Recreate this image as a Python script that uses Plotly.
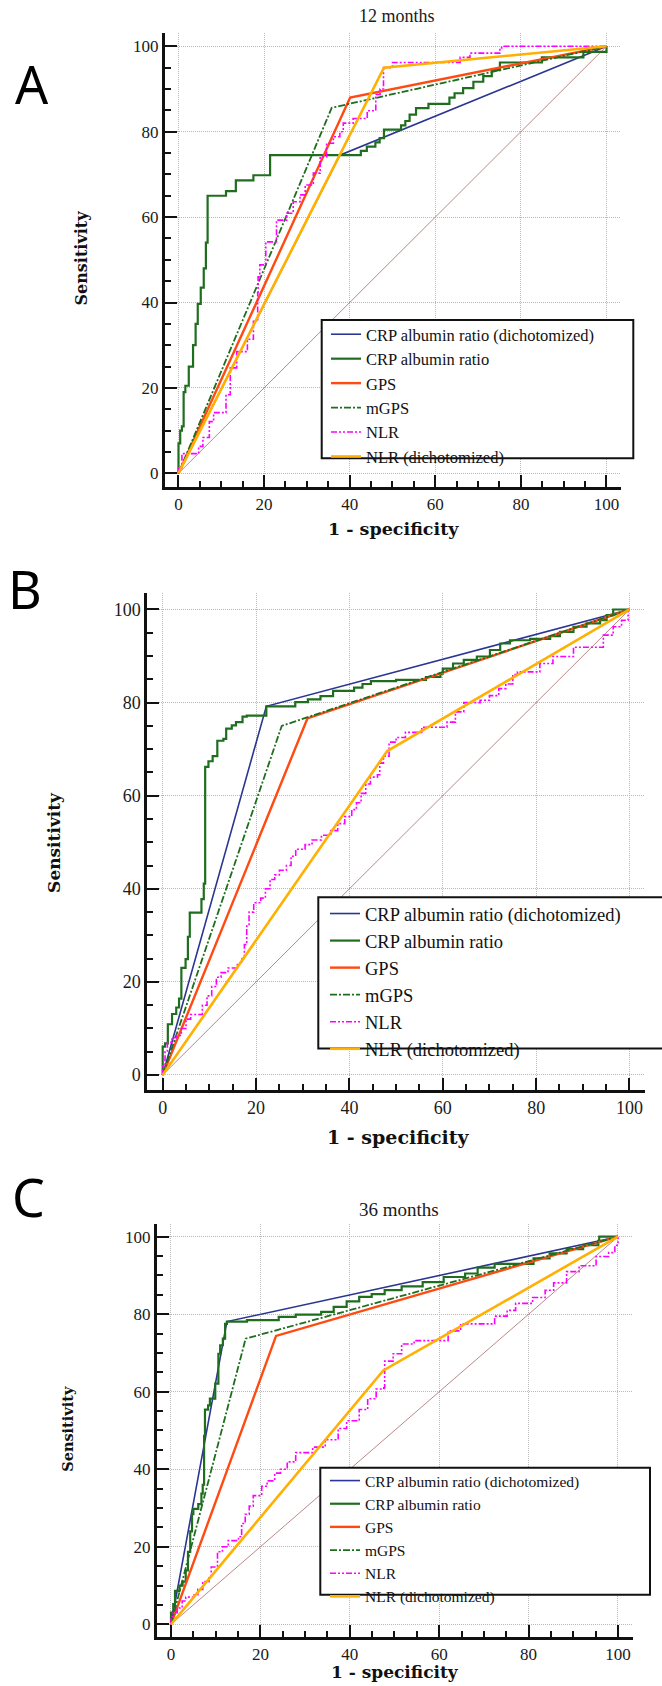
import plotly.graph_objects as go

FIG_W, FIG_H = 662, 1686

SERIES_NAMES = [
    "CRP albumin ratio (dichotomized)",
    "CRP albumin ratio",
    "GPS",
    "mGPS",
    "NLR",
    "NLR (dichotomized)",
]
PANEL_LETTERS = ["A", "B", "C"]
PANEL_TITLES = ["12 months", "", "36 months"]
X_TITLE = "1 - specificity"
Y_TITLE = "Sensitivity"
TICK_VALUES = [0, 20, 40, 60, 80, 100]
TICK_LABELS = ["0", "20", "40", "60", "80", "100"]
DIAG_X = [0, 100]
DIAG_Y = [0, 100]

# ---------------- Panel A : 12 months ----------------
A_CARD_X = [0, 37.7, 100]
A_CARD_Y = [0, 74.5, 100]
A_CAR_X = [0, 0, 0.4, 0.8, 1.2, 1.6, 2.4, 3.4, 4.0, 4.5, 5.2, 5.9, 6.4, 6.8, 11.1, 13.4,
           17.5, 21.4, 42.6, 44, 46, 47, 48, 52, 53, 54, 55.5, 58.4, 63.3, 64.5, 66.5,
           68.9, 71.2, 73.2, 75.1, 84.9, 94.6, 100]
A_CAR_Y = [0, 7, 10, 11, 19, 20.5, 25, 30, 35, 39.7, 43.5, 48, 54, 65, 66.1, 68.6,
           69.8, 74.5, 75.5, 76.5, 77.5, 78.5, 80.5, 81.5, 82.5, 84, 85.5, 86.5, 88, 89, 90.2,
           91.7, 93, 94.4, 96.2, 97.4, 98.7, 100]
A_GPS_X = [0, 40.1, 100]
A_GPS_Y = [0, 88, 100]
A_MGPS_X = [0, 35.8, 100]
A_MGPS_Y = [0, 85.6, 100]
A_NLR_X = [0, 0, 0.8, 4.7, 5.7, 7.2, 8.2, 11.1, 12.1, 13.6, 16.1, 17.5, 18.5, 18.6, 19,
           20.4, 22.9, 25.3, 26.8, 28.4, 29.6, 31.5, 33.1, 34.6, 36.2, 37.7, 38.5, 40.8,
           44.1, 46.1, 47.1, 47.9, 50, 65.8, 68.1, 75.1, 75.5, 100]
A_NLR_Y = [0, 1.3, 4.6, 6.3, 8.4, 12.1, 14.2, 18.4, 24.7, 28.5, 31.4, 35.6, 42.3, 46, 48.8,
           54.2, 59.3, 60.9, 63.6, 65.2, 67.5, 70.3, 74.1, 77.3, 78.8, 80, 82, 83.1,
           84.9, 88.7, 90, 95, 96.2, 97.4, 98.4, 99.5, 100, 100]
A_NLRD_X = [0, 48, 100]
A_NLRD_Y = [0, 95, 100]

# ---------------- Panel B ----------------
B_CARD_X = [0, 22.2, 100]
B_CARD_Y = [0, 79.2, 100]
B_CAR_X = [0, 0, 0.5, 1.1, 2, 2.9, 3.5, 4, 4.9, 5.4, 5.8, 8.3, 8.8, 9.1, 9.8, 10.7, 11.7,
           13, 13.6, 14.8, 15.7, 17.1, 18, 22.2, 28.4, 31.1, 33.8, 36.5, 41, 42.8, 44.6,
           50, 56.4, 59.5, 60, 62.2, 64.5, 67.3, 70.1, 72.3, 74.4, 78.7, 83, 85.1, 88,
           90.8, 93.7, 95.1, 96.5, 100]
B_CAR_Y = [0, 6.1, 6.8, 10.9, 13.1, 14.5, 16.4, 23, 24.9, 29.7, 34.9, 37.8, 41.1, 66.2,
           67.4, 68.5, 71.8, 72.2, 74.4, 75.1, 75.8, 77, 77.2, 79.2, 80.1, 80.7, 81.4, 82.5,
           83.2, 84, 84.6, 84.9, 85.5, 86.2, 87.3, 88.4, 89.2, 89.9, 91.3, 92.7, 93.4, 93.7,
           94.3, 95.2, 96.3, 97, 97.7, 98.8, 100, 100]
B_GPS_X = [0, 31, 100]
B_GPS_Y = [0, 76.6, 100]
B_MGPS_X = [0, 25.5, 100]
B_MGPS_Y = [0, 75, 100]
B_NLR_X = [0, 0, 0.5, 1, 2, 3, 4, 5, 6, 8.5, 9.5, 10.5, 11.5, 12.5, 14, 16, 17, 17.5, 18,
           18.5, 19.5, 21, 22, 23, 24, 25, 26.5, 27.5, 28.5, 30.5, 32, 34, 36, 37.5, 39,
           40.5, 41.5, 42.5, 43.5, 44.5, 46, 46.5, 47.3, 48.5, 50, 52, 55.5, 60.9, 62.7,
           64.5, 68, 70, 72, 73.5, 75, 76, 80.8, 83.6, 88, 94.4, 96.5, 98.3, 99.7, 100]
B_NLR_Y = [0, 2, 5, 7, 8, 8.5, 10, 12, 13, 15, 17, 19, 21, 22, 23, 24, 25, 28, 32,
           35, 37, 38, 40, 42, 43, 44, 45, 47, 48.5, 49.5, 50.5, 51.5, 52.5, 54, 55.5,
           57, 58.5, 60.5, 62.5, 64, 64.5, 67, 68.5, 71.5, 72.5, 73.6, 74.7, 75.8, 78,
           80, 80.5, 81.5, 83, 84, 86, 86.6, 88.4, 89.9, 91.9, 94.5, 96.3, 97.7, 100, 100]
B_NLRD_X = [0, 48.1, 100]
B_NLRD_Y = [0, 69.6, 100]

# ---------------- Panel C : 36 months ----------------
C_CARD_X = [0, 12.5, 100]
C_CARD_Y = [0, 78.1, 100]
C_CAR_X = [0, 0, 0.5, 0.9, 1.9, 2.6, 3.3, 3.8, 4.3, 4.7, 5, 6.1, 6.8, 7.1, 7.4, 7.6, 8.3,
           8.7, 9.9, 10.6, 11, 11.6, 12.1, 12.5, 17, 24.1, 27.9, 33.6, 36.4, 39.3, 42.1,
           44.9, 47.8, 51.6, 56.3, 61, 65.8, 68.6, 72.4, 81.1, 84.7, 88.5, 92.2, 95.6,
           95.8, 100]
C_CAR_Y = [0, 3, 5.2, 8.6, 10, 11, 13.9, 18.7, 24, 28.4, 29.8, 31, 33.7, 36, 48.6, 55.4,
           56.5, 58.2, 62.1, 69.8, 72, 73.7, 77.5, 78.1, 78.5, 79.3, 79.9, 80.6, 81.9,
           83.3, 84.5, 85.2, 86.2, 87.2, 88.3, 89.6, 90.5, 92, 93, 94.4, 95.7, 96.8, 97.8,
           98.9, 100, 100]
C_GPS_X = [0, 23.5, 100]
C_GPS_Y = [0, 74.4, 100]
C_MGPS_X = [0, 16.7, 100]
C_MGPS_Y = [0, 73.7, 100]
C_NLR_X = [0, 0, 0.5, 1.4, 2.5, 3.3, 5.2, 6, 7.1, 8.5, 9, 10.4, 11.5, 12.8, 15.1, 15.8,
           16.6, 17.5, 18.4, 20.3, 21.5, 23.2, 24.5, 26, 27.9, 31.7, 34.5, 37.4, 39.3,
           42.1, 44, 45.9, 47.6, 47.8, 49.7, 51.6, 54.4, 62, 64.8, 72.4, 75.2, 77.1, 80.9,
           83.7, 85.6, 88.5, 91.3, 95.1, 97.9, 99.3, 100]
C_NLR_Y = [0, 2, 3, 4.2, 6, 7, 7.6, 9, 11, 12, 14.8, 18.7, 20, 21.6, 22.6, 26, 28.4,
           30.5, 33.2, 35.6, 37, 39, 40, 41.9, 44.3, 45.7, 47.6, 50.5, 52.5, 55.4, 58.2,
           60.7, 61, 67.9, 69.8, 72.3, 73.2, 75.7, 77.5, 79.5, 81, 82.8, 84.3, 86.2, 88.1,
           91, 92.5, 94.9, 95.9, 97.8, 100]
C_NLRD_X = [0, 47.5, 100]
C_NLRD_Y = [0, 65.5, 100]

PANEL_SERIES = [
    [(A_CARD_X, A_CARD_Y), (A_CAR_X, A_CAR_Y), (A_GPS_X, A_GPS_Y),
     (A_MGPS_X, A_MGPS_Y), (A_NLR_X, A_NLR_Y), (A_NLRD_X, A_NLRD_Y)],
    [(B_CARD_X, B_CARD_Y), (B_CAR_X, B_CAR_Y), (B_GPS_X, B_GPS_Y),
     (B_MGPS_X, B_MGPS_Y), (B_NLR_X, B_NLR_Y), (B_NLRD_X, B_NLRD_Y)],
    [(C_CARD_X, C_CARD_Y), (C_CAR_X, C_CAR_Y), (C_GPS_X, C_GPS_Y),
     (C_MGPS_X, C_MGPS_Y), (C_NLR_X, C_NLR_Y), (C_NLRD_X, C_NLRD_Y)],
]

# ---------------- styles / layout geometry (pixels) ----------------
STYLES = {
    "CRP albumin ratio (dichotomized)": dict(color="#2B3592", width=1.6, dash="solid", shape="linear"),
    "CRP albumin ratio": dict(color="#1E6E1E", width=2.2, dash="solid", shape="hv"),
    "GPS": dict(color="#FF4A12", width=2.4, dash="solid", shape="linear"),
    "mGPS": dict(color="#1E6E1E", width=1.8, dash="7px,2px,2px,2px", shape="linear"),
    "NLR": dict(color="#FF00FF", width=1.6, dash="6px,2px,2px,2px,2px,2px", shape="hv"),
    "NLR (dichotomized)": dict(color="#FFB000", width=2.6, dash="solid", shape="linear"),
}

SERIF = "Liberation Serif"
BOLD_SERIF = "DejaVu Serif"

PANELS = [
    dict(x0=178.5, x100=606.5, y0=473.3, y100=46.3, xr=(-3.15, 103.3), yr=(-3.14, 103.1),
         tick=17, letter=(32, 84), title=(397, 16, 18),
         xt=(393, 529.3, 17.5), yt=(80.5, 258, 16),
         leg=(326, 317.0, 16.5), box=(321.7, 320, 633.3, 458.3)),
    dict(x0=162.7, x100=629.5, y0=1075.0, y100=609.5, xr=(-3.3, 103.3), yr=(-3.2, 103.5),
         tick=18, letter=(25, 588), title=None,
         xt=(398, 1136.7, 19), yt=(54.7, 842.2, 17),
         leg=(325, 895.0, 18.5), box=(318.3, 897.2, 690, 1048.5)),
    dict(x0=171.0, x100=618.0, y0=1624.3, y100=1236.7, xr=(-3.15, 103.3), yr=(-3.2, 103.3),
         tick=17, letter=(28.3, 1196.7), title=(399.4, 1209, 19),
         xt=(395, 1671.5, 17), yt=(67.4, 1428.4, 14.5),
         leg=(325, 1464.0, 15.5), box=(320.3, 1467.7, 650, 1594.8)),
]


def px_x(p):
    return p / FIG_W


def px_y(p):
    return 1 - p / FIG_H


fig = go.Figure()
layout = dict(
    width=FIG_W, height=FIG_H,
    margin=dict(l=0, r=0, t=0, b=0, autoexpand=False),
    paper_bgcolor="white", plot_bgcolor="white",
    showlegend=True, hovermode=False,
    annotations=[], shapes=[],
)

for k, (pan, series) in enumerate(zip(PANELS, PANEL_SERIES)):
    suffix = "" if k == 0 else str(k + 1)
    xa, ya = "x" + suffix, "y" + suffix
    leg = "legend" + suffix

    sx = (pan["x100"] - pan["x0"]) / 100.0
    sy = (pan["y0"] - pan["y100"]) / 100.0
    x_left = pan["x0"] + pan["xr"][0] * sx
    x_right = pan["x0"] + pan["xr"][1] * sx
    y_bottom = pan["y0"] - pan["yr"][0] * sy
    y_top = pan["y0"] - pan["yr"][1] * sy

    common = dict(
        showline=True, linewidth=3, linecolor="#111111", mirror=False,
        ticks="inside", ticklen=12, tickwidth=2, tickcolor="#111111",
        tickmode="array", tickvals=TICK_VALUES, ticktext=TICK_LABELS,
        showgrid=True, gridcolor="#B8B8B8", gridwidth=1, griddash="1px,1px",
        zeroline=False, fixedrange=True,
        minor=dict(ticks="inside", ticklen=6, tickwidth=2, tickcolor="#111111",
                   tickmode="linear", tick0=0, dtick=5, showgrid=False),
        tickfont=dict(family=SERIF, size=pan["tick"], color="#1a1a1a"),
    )
    layout["xaxis" + suffix] = dict(common, range=list(pan["xr"]), anchor=ya,
                                    domain=[px_x(x_left), px_x(x_right)])
    layout["yaxis" + suffix] = dict(common, range=list(pan["yr"]), anchor=xa,
                                    domain=[px_y(y_bottom), px_y(y_top)])

    # diagonal reference line
    fig.add_trace(go.Scatter(x=DIAG_X, y=DIAG_Y, mode="lines",
                             line=dict(color="#B37A7A", width=0.9),
                             showlegend=False, hoverinfo="skip", xaxis=xa, yaxis=ya))
    for name, (xs, ys) in zip(SERIES_NAMES, series):
        st = STYLES[name]
        fig.add_trace(go.Scatter(
            x=xs, y=ys, mode="lines", name=name,
            line=dict(color=st["color"], width=st["width"], dash=st["dash"], shape=st["shape"]),
            legend=leg, xaxis=xa, yaxis=ya, hoverinfo="skip"))

    lx, ly, lfs = pan["leg"]
    layout[leg] = dict(
        x=px_x(lx), y=px_y(ly), xanchor="left", yanchor="top",
        bgcolor="rgba(0,0,0,0)", borderwidth=0, tracegroupgap=0,
        font=dict(family=SERIF, size=lfs, color="#111111"),
        itemclick=False, itemdoubleclick=False,
    )
    bx0, by0, bx1, by1 = pan["box"]
    layout["shapes"].append(dict(
        type="rect", xref="paper", yref="paper",
        x0=px_x(bx0), x1=px_x(bx1), y0=px_y(by1), y1=px_y(by0),
        line=dict(color="#111111", width=2), fillcolor="white", layer="above"))

    # panel letter
    lxp, lyp = pan["letter"]
    layout["annotations"].append(dict(
        text=PANEL_LETTERS[k], x=px_x(lxp), y=px_y(lyp), xref="paper", yref="paper",
        xanchor="center", yanchor="middle", showarrow=False,
        font=dict(family="Noto Sans", size=52, color="#000000")))
    if pan["title"] is not None:
        tx, ty, tfs = pan["title"]
        layout["annotations"].append(dict(
            text=PANEL_TITLES[k], x=px_x(tx), y=px_y(ty), xref="paper", yref="paper",
            xanchor="center", yanchor="middle", showarrow=False,
            font=dict(family=SERIF, size=tfs, color="#1a1a1a")))
    xtx, xty, xtfs = pan["xt"]
    layout["annotations"].append(dict(
        text=X_TITLE, x=px_x(xtx), y=px_y(xty), xref="paper", yref="paper",
        xanchor="center", yanchor="middle", showarrow=False,
        font=dict(family=BOLD_SERIF, size=xtfs, color="#111111", weight="bold")))
    ytx, yty, ytfs = pan["yt"]
    layout["annotations"].append(dict(
        text=Y_TITLE, x=px_x(ytx), y=px_y(yty), xref="paper", yref="paper",
        xanchor="center", yanchor="middle", showarrow=False, textangle=-90,
        font=dict(family=BOLD_SERIF, size=ytfs, color="#111111", weight="bold")))

fig.update_layout(**layout)
fig.write_html(
    "out.html",
    config={"displayModeBar": False, "staticPlot": True},
    post_script="document.body.style.margin='0px';document.body.style.overflow='hidden';",
)
